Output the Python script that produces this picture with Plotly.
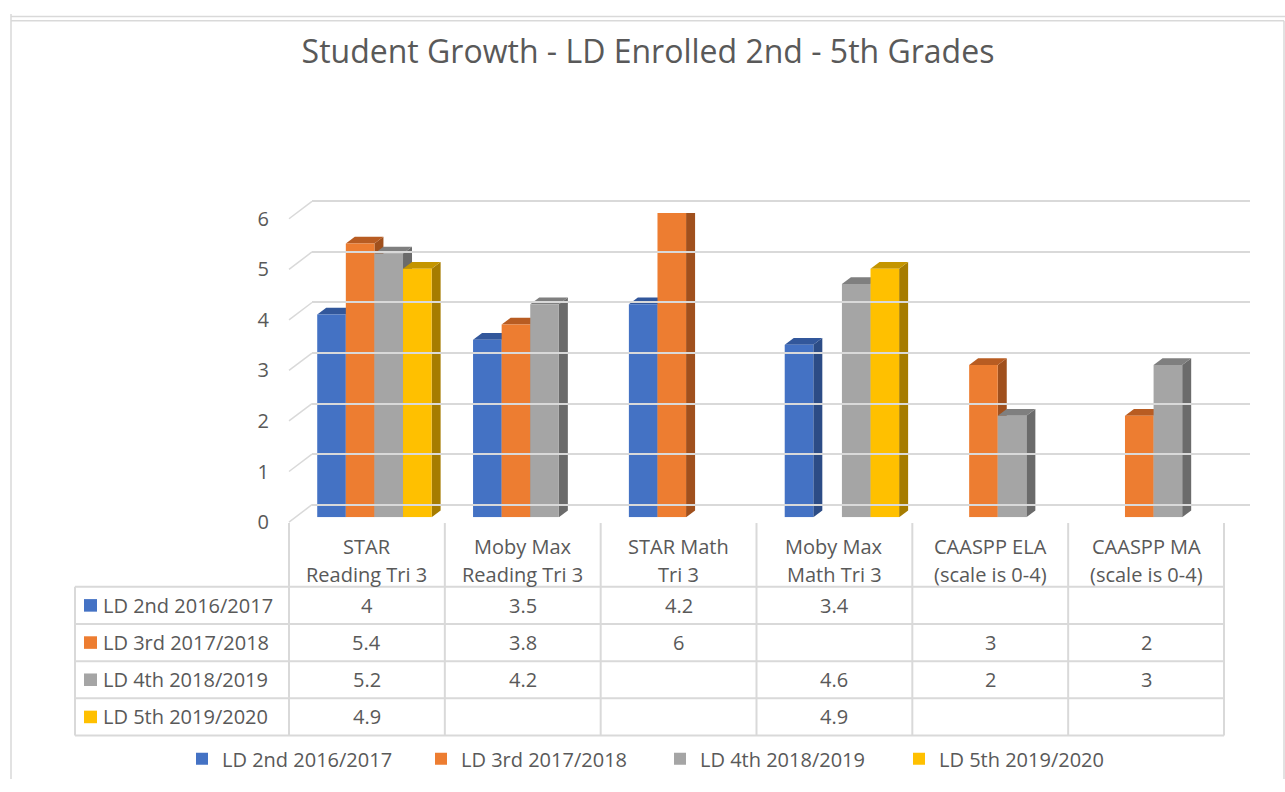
import plotly.graph_objects as go

# ---------------- data ----------------
categories = ["STAR Reading Tri 3", "Moby Max Reading Tri 3", "STAR Math Tri 3",
              "Moby Max Math Tri 3", "CAASPP ELA (scale is 0-4)", "CAASPP MA (scale is 0-4)"]
category_labels = [["STAR", "Reading Tri 3"], ["Moby Max", "Reading Tri 3"], ["STAR Math", "Tri 3"],
                   ["Moby Max", "Math Tri 3"], ["CAASPP ELA", "(scale is 0-4)"], ["CAASPP MA", "(scale is 0-4)"]]
series_names = ["LD 2nd 2016/2017", "LD 3rd 2017/2018", "LD 4th 2018/2019", "LD 5th 2019/2020"]
ld2 = [4, 3.5, 4.2, 3.4, None, None]
ld3 = [5.4, 3.8, 6, None, 3, 2]
ld4 = [5.2, 4.2, None, 4.6, 2, 3]
ld5 = [4.9, None, None, 4.9, None, None]
series_values = [ld2, ld3, ld4, ld5]
y_ticks = [0, 1, 2, 3, 4, 5, 6]
title_text = "Student Growth - LD Enrolled 2nd - 5th Grades"

# ---------------- style ----------------
W, H = 1285, 792
FONT = "Open Sans"
TXT = "#595959"
GRID = "#d9d9d9"
FS = 20
front_colors = ["#4472C4", "#ED7D31", "#A5A5A5", "#FFC000"]
top_colors = ["#32579b", "#b85c22", "#7f7f7f", "#c49500"]
side_colors = ["#2c4c86", "#a0501d", "#6b6b6b", "#a67c00"]

def px(x):
    return x / W

def py(y):
    return 1 - y / H

# layout geometry (pixels)
table_x0, table_x1 = 289, 1224
colw = (table_x1 - table_x0) / len(categories)
bar_shift = 7.5
bar_y0, bar_y6 = 521, 206         # bar (front) baseline and value 6
lab_y0, lab_y6 = 526, 212         # tick label positions
grid_y0, grid_y6 = 508, 194       # back-wall gridlines
grid_x0, grid_x1 = 312, 1250
grid_pad = 0.2
grid_unit = (grid_y0 - grid_y6) / 6
n_series = len(series_names)
bw = 28.6 / colw                  # bar width in category units
group_start = -n_series * bw / 2
depth_dx = 9 / colw               # 3D depth in category units
depth_dy = 7 / ((bar_y0 - bar_y6) / 6)

fig = go.Figure()

for i, (name, vals) in enumerate(zip(series_names, series_values)):
    fig.add_trace(go.Bar(
        name=name, x=list(range(len(categories))), y=vals,
        width=bw, offset=group_start + i * bw,
        marker=dict(color=front_colors[i], line=dict(width=0)),
        xaxis="x", yaxis="y",
    ))

# dummy traces so auxiliary axes render
fig.add_trace(go.Scatter(x=[None], y=[None], xaxis="x3", yaxis="y3", showlegend=False, hoverinfo="skip"))
fig.add_trace(go.Scatter(x=[None], y=[None], xaxis="x", yaxis="y2", showlegend=False, hoverinfo="skip"))

shapes = []
# 3D faces (side and top) derived from the data values
for j in range(len(categories)):
    for i, vals in enumerate(series_values):
        v = vals[j]
        if v is None:
            continue
        x0 = j + group_start + i * bw
        x1 = x0 + bw
        side = (f"M{x1},0 L{x1 + depth_dx},{depth_dy} L{x1 + depth_dx},{v + depth_dy} "
                f"L{x1},{v} Z")
        top = (f"M{x0},{v} L{x0 + depth_dx},{v + depth_dy} L{x1 + depth_dx},{v + depth_dy} "
               f"L{x1},{v} Z")
        shapes.append(dict(type="path", path=side, xref="x", yref="y", layer="between",
                           fillcolor=side_colors[i], line=dict(width=0)))
        shapes.append(dict(type="path", path=top, xref="x", yref="y", layer="between",
                           fillcolor=top_colors[i], line=dict(width=0)))

# perspective lines on the left of the back wall
for k in y_ticks:
    fy = lab_y0 - (lab_y0 - lab_y6) * k / 6
    by = grid_y0 - (grid_y0 - grid_y6) * k / 6
    shapes.append(dict(type="line", xref="paper", yref="paper",
                       x0=px(table_x0), y0=py(fy), x1=px(grid_x0), y1=py(by),
                       line=dict(color=GRID, width=1.5), layer="below"))

# data table lines
row_top = 593
row_h = 38.5
tab_left = 75
tab_bottom = row_top + row_h * n_series
for c in range(len(categories) + 1):
    xx = table_x0 + c * colw
    shapes.append(dict(type="line", xref="paper", yref="paper",
                       x0=px(xx), x1=px(xx), y0=py(527), y1=py(tab_bottom),
                       line=dict(color=GRID, width=2)))
shapes.append(dict(type="line", xref="paper", yref="paper",
                   x0=px(tab_left), x1=px(tab_left), y0=py(row_top), y1=py(tab_bottom),
                   line=dict(color=GRID, width=2)))
for r in range(n_series + 1):
    yy = row_top + r * row_h
    shapes.append(dict(type="line", xref="paper", yref="paper",
                       x0=px(tab_left), x1=px(table_x1), y0=py(yy), y1=py(yy),
                       line=dict(color=GRID, width=2)))

# legend keys in table
for r in range(n_series):
    cy = row_top + (r + 0.5) * row_h
    shapes.append(dict(type="rect", xref="paper", yref="paper",
                       x0=px(84), x1=px(97), y0=py(cy - 6.5), y1=py(cy + 6.5),
                       fillcolor=front_colors[r], line=dict(width=0)))

# chart border (left, top, right only; bottom is outside the view)
border = dict(xref="paper", yref="paper", line=dict(color=GRID, width=1.5))
shapes.append(dict(type="line", x0=px(11), x1=1, y0=py(2.5), y1=py(2.5), **border))
shapes.append(dict(type="line", x0=px(11), x1=px(1284), y0=py(7), y1=py(7), **border))
shapes.append(dict(type="line", x0=px(11), x1=px(11), y0=1, y1=0, **border))
shapes.append(dict(type="line", x0=px(1284), x1=px(1284), y0=py(7), y1=0, **border))

annotations = []
# category labels
for c, lines in enumerate(category_labels):
    cx = table_x0 + (c + 0.5) * colw
    for li, t in enumerate(lines):
        annotations.append(dict(text=t, xref="paper", yref="paper", x=px(cx), y=py(551 + li * 29),
                                xanchor="center", yanchor="middle", showarrow=False,
                                font=dict(family=FONT, size=FS, color=TXT)))
# table values and row labels
for r, (name, vals) in enumerate(zip(series_names, series_values)):
    cy = row_top + (r + 0.5) * row_h
    annotations.append(dict(text=name, xref="paper", yref="paper", x=px(101), y=py(cy),
                            xanchor="left", yanchor="middle", showarrow=False,
                            font=dict(family=FONT, size=FS, color=TXT)))
    for c, v in enumerate(vals):
        if v is None:
            continue
        cx = table_x0 + (c + 0.5) * colw
        annotations.append(dict(text=f"{v:g}", xref="paper", yref="paper", x=px(cx), y=py(cy),
                                xanchor="center", yanchor="middle", showarrow=False,
                                font=dict(family=FONT, size=FS, color=TXT)))

fig.update_layout(
    width=W, height=H,
    margin=dict(l=0, r=0, t=0, b=0),
    paper_bgcolor="white", plot_bgcolor="rgba(0,0,0,0)",
    barmode="overlay",
    title=dict(text=title_text, x=px(648), y=py(52), xanchor="center", yanchor="middle",
               font=dict(family=FONT, size=32, color=TXT)),
    xaxis=dict(domain=[px(table_x0 + bar_shift), px(table_x1 + bar_shift)], range=[-0.5, 5.5],
               showgrid=False, zeroline=False, showticklabels=False, showline=False, fixedrange=True),
    yaxis=dict(domain=[py(bar_y0), py(bar_y6)], range=[0, 6], showgrid=False, zeroline=False,
               showticklabels=False, showline=False),
    yaxis2=dict(domain=[py(lab_y0), py(lab_y6)], range=[0, 6], anchor="free",
                position=px(269), side="left", showgrid=False, zeroline=False,
                tickvals=y_ticks, ticks="", showline=False,
                tickfont=dict(family=FONT, size=FS, color=TXT)),
    xaxis3=dict(domain=[px(grid_x0), px(grid_x1)], range=[0, 1], anchor="y3",
                showgrid=False, zeroline=False, showticklabels=False, showline=False),
    yaxis3=dict(domain=[py(grid_y0 + grid_pad * grid_unit), py(grid_y6 - grid_pad * grid_unit)],
                range=[-grid_pad, 6 + grid_pad], anchor="x3",
                tickvals=y_ticks, showticklabels=False, showgrid=True, gridcolor=GRID, gridwidth=1.5,
                zeroline=False, showline=False),
    legend=dict(orientation="h", x=px(660), y=py(771), xanchor="center", yanchor="middle",
                font=dict(family=FONT, size=FS, color=TXT), itemwidth=30, tracegroupgap=0,
                entrywidth=194, entrywidthmode="pixels",
                bgcolor="rgba(0,0,0,0)"),
    shapes=shapes,
    annotations=annotations,
    showlegend=True,
)

fig.write_html("out.html", config={"displayModeBar": False},
               post_script="document.body.style.margin='0px';")
